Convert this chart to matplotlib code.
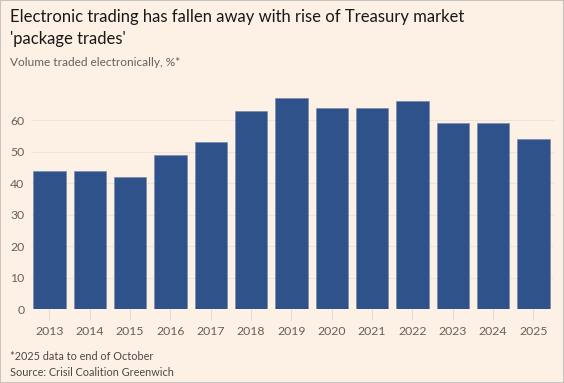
import matplotlib
matplotlib.use("Agg")
import matplotlib.pyplot as plt
from matplotlib.patches import Rectangle

years = ["2013", "2014", "2015", "2016", "2017", "2018", "2019",
         "2020", "2021", "2022", "2023", "2024", "2025"]
share = [44, 44, 42, 49, 53, 63, 67, 64, 64, 66, 59, 59, 54]
yticks = [0, 10, 20, 30, 40, 50, 60]

BG = "#FDF1E5"
BAR = "#2E5289"
GREY = "#66605C"
H = 383.0

plt.rcParams["font.family"] = ["Lato", "DejaVu Sans"]

fig = plt.figure(figsize=(5.64, 3.83), dpi=100, facecolor=BG)
ax = fig.add_axes([0.0555, 0.193, 0.926, 0.575], facecolor=BG)

x = list(range(len(years)))
ax.bar(x, share, width=0.8, color=BAR, edgecolor="#6F86AD", linewidth=0.4, zorder=3)

ax.set_xlim(-0.45, 12.5)
ax.set_ylim(0, 70)
ax.set_yticks(yticks)
ax.set_xticks(x)
ax.set_xticklabels(years)
ax.grid(axis="y", color="#EFE3D8", lw=0.8, zorder=0)
for s in ax.spines.values():
    s.set_visible(False)
ax.tick_params(axis="y", length=0, pad=5, labelsize=8.8, labelcolor=GREY)
ax.tick_params(axis="x", length=8, width=0.6, color="#E2D6CB", pad=4,
               labelsize=8.8, labelcolor=GREY)

# title / subtitle / footer, positions in pixels from top
fig.text(0.018, 1 - 17 / H, "Electronic trading has fallen away with rise of Treasury market",
         fontsize=12, color="#1A1817", va="center")
fig.text(0.018, 1 - 39 / H, "'package trades'", fontsize=12, color="#1A1817", va="center")
fig.text(0.018, 1 - 62 / H, "Volume traded electronically, %*", fontsize=8.6, color=GREY, va="center")
fig.text(0.018, 1 - 357 / H, "*2025 data to end of October", fontsize=7.8, color="#4D4845", va="center")
fig.text(0.018, 1 - 373 / H, "Source: Crisil Coalition Greenwich", fontsize=7.8, color="#4D4845", va="center")

fig.patches.append(Rectangle((0, 0), 1, 1, transform=fig.transFigure, fill=False,
                             edgecolor="#C8C4C0", lw=1.5))

fig.savefig("out.png", dpi=100, facecolor=BG)
